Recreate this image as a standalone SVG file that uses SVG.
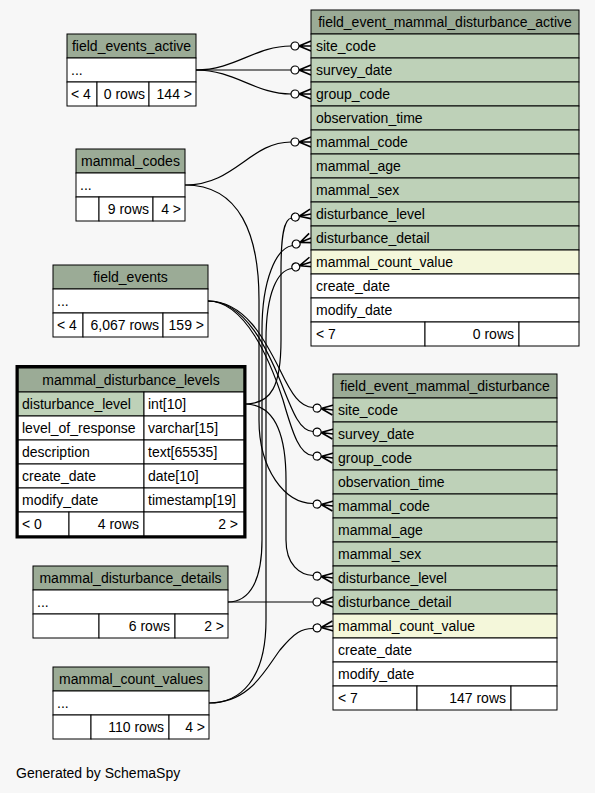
<svg xmlns="http://www.w3.org/2000/svg" xmlns:xlink="http://www.w3.org/1999/xlink" width="595" height="793" viewBox="0 0 595 793">
<style>
text{font-family:"Liberation Sans",Arial,Helvetica,sans-serif;font-size:14px;fill:#000}
.h{fill:#9bab96;stroke:#000;stroke-width:1}
.k{fill:#bed1b8;stroke:#000;stroke-width:1}
.w{fill:#ffffff;stroke:#000;stroke-width:1}
.y{fill:#f4f7da;stroke:#000;stroke-width:1}
.f{fill:#f7f7f7;stroke:#000;stroke-width:1}
.m{text-anchor:middle}
.r{text-anchor:end}
.e{fill:none;stroke:#000;stroke-width:1.2}
</style>
<defs>
<g id="crow">
<path d="M-12,0 L0,-5 M-12,0 L0,0 M-12,0 L0,5" fill="none" stroke="#000" stroke-width="1.6"/>
<circle cx="-16" cy="0" r="4" fill="#fff" stroke="#000" stroke-width="1.2"/>
</g>
</defs>
<rect x="0" y="0" width="595" height="793" fill="#f7f7f7"/>

<g id="connectors">
<path class="e" d="M196,70 C235,70 255,46 291,46"/>
<path class="e" d="M196,70 L291,70"/>
<path class="e" d="M196,70 C235,70 255,94 291,94"/>
<path class="e" d="M185,185 C235,185 250,142 291,142"/>
<path class="e" d="M185,185 C240,185 259,235 259,300 L259,420 C259,470 285,503 313,503.5"/>
<path class="e" d="M208,301 C245,301 265,340 280,370 C292,395 300,407 313,407.5"/>
<path class="e" d="M208,301 C245,301 268,350 282,385 C293,413 300,431 313,431.5"/>
<path class="e" d="M208,301 C245,301 270,360 283,400 C293,435 300,455 313,455.5"/>
<path class="e" d="M245,404 C272,404 281,385 281,340 L281,270 C281,235 284,219 291.5,218"/>
<path class="e" d="M245,404 C272,404 286,430 286,480 L286,540 C286,565 300,575 313,575.5"/>
<path class="e" d="M228,602 C250,602 262,580 262,540 L262,330 C262,280 276,248 292.5,245.5"/>
<path class="e" d="M228,602 L313,602"/>
<path class="e" d="M209,703 C240,703 266,680 266,620 L266,340 C266,292 278,270 292,268.5"/>
<path class="e" d="M209,703 C250,703 265,670 280,650 C295,632 302,628.5 313,628.5"/>
<use xlink:href="#crow" transform="translate(311,46)"/>
<use xlink:href="#crow" transform="translate(311,70)"/>
<use xlink:href="#crow" transform="translate(311,94)"/>
<use xlink:href="#crow" transform="translate(311,142)"/>
<use xlink:href="#crow" transform="translate(311,214) rotate(-11)"/>
<use xlink:href="#crow" transform="translate(311,238) rotate(-22)"/>
<use xlink:href="#crow" transform="translate(311,262) rotate(-18)"/>
<use xlink:href="#crow" transform="translate(333,410) rotate(7)"/>
<use xlink:href="#crow" transform="translate(333,434) rotate(7)"/>
<use xlink:href="#crow" transform="translate(333,458) rotate(7)"/>
<use xlink:href="#crow" transform="translate(333,506) rotate(7)"/>
<use xlink:href="#crow" transform="translate(333,578) rotate(7)"/>
<use xlink:href="#crow" transform="translate(333,602)"/>
<use xlink:href="#crow" transform="translate(333,626) rotate(-7)"/>
</g>

<g id="field_event_mammal_disturbance_active">
<rect class="h" x="311" y="10" width="268" height="24"/>
<text class="m" x="445" y="27">field_event_mammal_disturbance_active</text>
<rect class="k" x="311" y="34" width="268" height="24"/><text x="316" y="51">site_code</text>
<rect class="k" x="311" y="58" width="268" height="24"/><text x="316" y="75">survey_date</text>
<rect class="k" x="311" y="82" width="268" height="24"/><text x="316" y="99">group_code</text>
<rect class="k" x="311" y="106" width="268" height="24"/><text x="316" y="123">observation_time</text>
<rect class="k" x="311" y="130" width="268" height="24"/><text x="316" y="147">mammal_code</text>
<rect class="k" x="311" y="154" width="268" height="24"/><text x="316" y="171">mammal_age</text>
<rect class="k" x="311" y="178" width="268" height="24"/><text x="316" y="195">mammal_sex</text>
<rect class="k" x="311" y="202" width="268" height="24"/><text x="316" y="219">disturbance_level</text>
<rect class="k" x="311" y="226" width="268" height="24"/><text x="316" y="243">disturbance_detail</text>
<rect class="y" x="311" y="250" width="268" height="24"/><text x="316" y="267">mammal_count_value</text>
<rect class="w" x="311" y="274" width="268" height="24"/><text x="316" y="291">create_date</text>
<rect class="w" x="311" y="298" width="268" height="24"/><text x="316" y="315">modify_date</text>
<rect class="w" x="311" y="322" width="114" height="24"/><text x="316" y="339">&lt; 7</text>
<rect class="w" x="425" y="322" width="94" height="24"/><text class="r" x="514" y="339">0 rows</text>
<rect class="w" x="519" y="322" width="60" height="24"/>
</g>

<g id="field_event_mammal_disturbance">
<rect class="h" x="333" y="374" width="224" height="24"/>
<text class="m" x="445" y="391">field_event_mammal_disturbance</text>
<rect class="k" x="333" y="398" width="224" height="24"/><text x="338" y="415">site_code</text>
<rect class="k" x="333" y="422" width="224" height="24"/><text x="338" y="439">survey_date</text>
<rect class="k" x="333" y="446" width="224" height="24"/><text x="338" y="463">group_code</text>
<rect class="k" x="333" y="470" width="224" height="24"/><text x="338" y="487">observation_time</text>
<rect class="k" x="333" y="494" width="224" height="24"/><text x="338" y="511">mammal_code</text>
<rect class="k" x="333" y="518" width="224" height="24"/><text x="338" y="535">mammal_age</text>
<rect class="k" x="333" y="542" width="224" height="24"/><text x="338" y="559">mammal_sex</text>
<rect class="k" x="333" y="566" width="224" height="24"/><text x="338" y="583">disturbance_level</text>
<rect class="k" x="333" y="590" width="224" height="24"/><text x="338" y="607">disturbance_detail</text>
<rect class="y" x="333" y="614" width="224" height="24"/><text x="338" y="631">mammal_count_value</text>
<rect class="w" x="333" y="638" width="224" height="24"/><text x="338" y="655">create_date</text>
<rect class="w" x="333" y="662" width="224" height="24"/><text x="338" y="679">modify_date</text>
<rect class="w" x="333" y="686" width="84" height="24"/><text x="338" y="703">&lt; 7</text>
<rect class="w" x="417" y="686" width="94" height="24"/><text class="r" x="506" y="703">147 rows</text>
<rect class="w" x="511" y="686" width="46" height="24"/>
</g>

<g id="field_events_active">
<rect class="h" x="67" y="34" width="129" height="24"/>
<text class="m" x="131.5" y="51">field_events_active</text>
<rect class="w" x="67" y="58" width="129" height="24"/><text x="71" y="75">...</text>
<rect class="w" x="67" y="82" width="30" height="24"/><text x="71" y="99">&lt; 4</text>
<rect class="w" x="97" y="82" width="52" height="24"/><text class="r" x="145" y="99">0 rows</text>
<rect class="w" x="149" y="82" width="47" height="24"/><text class="r" x="192" y="99">144 &gt;</text>
</g>

<g id="mammal_codes">
<rect class="h" x="76" y="149" width="109" height="24"/>
<text class="m" x="130.5" y="166">mammal_codes</text>
<rect class="w" x="76" y="173" width="109" height="24"/><text x="80" y="190">...</text>
<rect class="w" x="76" y="197" width="23" height="24"/>
<rect class="w" x="99" y="197" width="54" height="24"/><text class="r" x="149" y="214">9 rows</text>
<rect class="w" x="153" y="197" width="32" height="24"/><text class="r" x="181" y="214">4 &gt;</text>
</g>

<g id="field_events">
<rect class="h" x="53" y="265" width="155" height="24"/>
<text class="m" x="130.5" y="282">field_events</text>
<rect class="w" x="53" y="289" width="155" height="24"/><text x="57" y="306">...</text>
<rect class="w" x="53" y="313" width="30" height="24"/><text x="57" y="330">&lt; 4</text>
<rect class="w" x="83" y="313" width="80" height="24"/><text class="r" x="159" y="330">6,067 rows</text>
<rect class="w" x="163" y="313" width="45" height="24"/><text class="r" x="204" y="330">159 &gt;</text>
</g>

<g id="mammal_disturbance_levels">
<rect class="h" x="18" y="368" width="226" height="24"/>
<text class="m" x="131" y="385">mammal_disturbance_levels</text>
<rect class="k" x="18" y="392" width="126" height="24"/><text x="22" y="409">disturbance_level</text>
<rect class="w" x="144" y="392" width="100" height="24"/><text x="148" y="409">int[10]</text>
<rect class="w" x="18" y="416" width="126" height="24"/><text x="22" y="433">level_of_response</text>
<rect class="w" x="144" y="416" width="100" height="24"/><text x="148" y="433">varchar[15]</text>
<rect class="w" x="18" y="440" width="126" height="24"/><text x="22" y="457">description</text>
<rect class="w" x="144" y="440" width="100" height="24"/><text x="148" y="457">text[65535]</text>
<rect class="w" x="18" y="464" width="126" height="24"/><text x="22" y="481">create_date</text>
<rect class="w" x="144" y="464" width="100" height="24"/><text x="148" y="481">date[10]</text>
<rect class="w" x="18" y="488" width="126" height="24"/><text x="22" y="505">modify_date</text>
<rect class="w" x="144" y="488" width="100" height="24"/><text x="148" y="505">timestamp[19]</text>
<rect class="w" x="18" y="512" width="51" height="24"/><text x="22" y="529">&lt; 0</text>
<rect class="w" x="69" y="512" width="75" height="24"/><text class="r" x="139" y="529">4 rows</text>
<rect class="w" x="144" y="512" width="100" height="24"/><text class="r" x="238" y="529">2 &gt;</text>
<rect x="17" y="366.5" width="228" height="170.5" fill="none" stroke="#000" stroke-width="3"/>
</g>

<g id="mammal_disturbance_details">
<rect class="h" x="33" y="566" width="195" height="24"/>
<text class="m" x="130.5" y="583">mammal_disturbance_details</text>
<rect class="w" x="33" y="590" width="195" height="24"/><text x="37" y="607">...</text>
<rect class="w" x="33" y="614" width="66" height="24"/>
<rect class="w" x="99" y="614" width="76" height="24"/><text class="r" x="170" y="631">6 rows</text>
<rect class="w" x="175" y="614" width="53" height="24"/><text class="r" x="224" y="631">2 &gt;</text>
</g>

<g id="mammal_count_values">
<rect class="h" x="53" y="667" width="156" height="24"/>
<text class="m" x="131" y="684">mammal_count_values</text>
<rect class="w" x="53" y="691" width="156" height="24"/><text x="57" y="708">...</text>
<rect class="w" x="53" y="715" width="38" height="24"/>
<rect class="w" x="91" y="715" width="78" height="24"/><text class="r" x="164" y="732">110 rows</text>
<rect class="w" x="169" y="715" width="40" height="24"/><text class="r" x="205" y="732">4 &gt;</text>
</g>

<text x="16" y="778">Generated by SchemaSpy</text>
</svg>
